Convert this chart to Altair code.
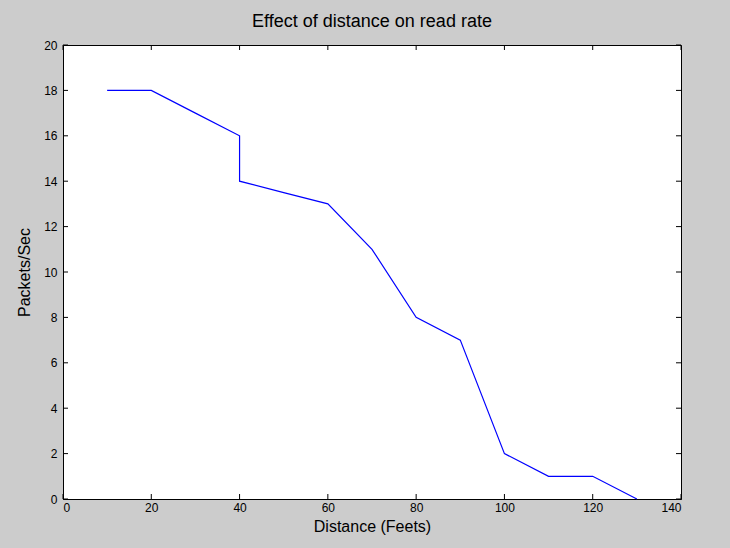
import altair as alt
import pandas as pd

distance = [10, 20, 30, 40, 40, 50, 60, 70, 80, 90, 100, 110, 120, 130]
packets = [18, 18, 17, 16, 14, 13.5, 13, 11, 8, 7, 2, 1, 1, 0]
order = list(range(len(distance)))
x_ticks = [0, 20, 40, 60, 80, 100, 120, 140]
y_ticks = [0, 2, 4, 6, 8, 10, 12, 14, 16, 18, 20]

df = pd.DataFrame({"d": distance, "p": packets, "o": order})
xt = pd.DataFrame({"v": x_ticks})
yt = pd.DataFrame({"v": y_ticks})

W, H = 618, 454
FONT = "Liberation Sans"

xs = alt.Scale(domain=[0, 140], nice=False, zero=False)
ys = alt.Scale(domain=[0, 20], nice=False, zero=False)

line = alt.Chart(df).mark_line(color="#0000ff", strokeWidth=1.2).encode(
    x=alt.X("d:Q", scale=xs, title="Distance (Feets)",
            axis=alt.Axis(values=x_ticks, tickSize=0, labelPadding=3, domainColor="black",
                          labelColor="black", labelFontSize=12, labelFont=FONT,
                          titleFont=FONT, titleFontSize=16, titleFontWeight="normal",
                          titleColor="black", titlePadding=5, grid=False)),
    y=alt.Y("p:Q", scale=ys, title="Packets/Sec",
            axis=alt.Axis(values=y_ticks, tickSize=0, labelPadding=6, domainColor="black",
                          labelColor="black", labelFontSize=12, labelFont=FONT,
                          titleFont=FONT, titleFontSize=16, titleFontWeight="normal",
                          titleColor="black", titlePadding=11, grid=False)),
    order="o:Q",
)

tick_len = 5
bottom_ticks = alt.Chart(xt).mark_rule(color="black").encode(
    x=alt.X("v:Q", scale=xs), y=alt.value(H), y2=alt.value(H - tick_len))
top_ticks = alt.Chart(xt).mark_rule(color="black").encode(
    x=alt.X("v:Q", scale=xs), y=alt.value(0), y2=alt.value(tick_len))
left_ticks = alt.Chart(yt).mark_rule(color="black").encode(
    y=alt.Y("v:Q", scale=ys), x=alt.value(0), x2=alt.value(tick_len))
right_ticks = alt.Chart(yt).mark_rule(color="black").encode(
    y=alt.Y("v:Q", scale=ys), x=alt.value(W), x2=alt.value(W - tick_len))

chart = alt.layer(line, bottom_ticks, top_ticks, left_ticks, right_ticks).properties(
    width=W, height=H,
    title=alt.Title("Effect of distance on read rate", font=FONT, fontSize=18,
                    fontWeight="normal", color="black", offset=8),
    background="#cccccc",
    autosize=alt.AutoSizeParams(type="none"),
    padding={"left": 63, "top": 45, "right": 49, "bottom": 49},
).configure_view(fill="white", stroke="black", strokeWidth=1)

chart.save("out.html", embed_options={"renderer": "svg", "actions": False})
